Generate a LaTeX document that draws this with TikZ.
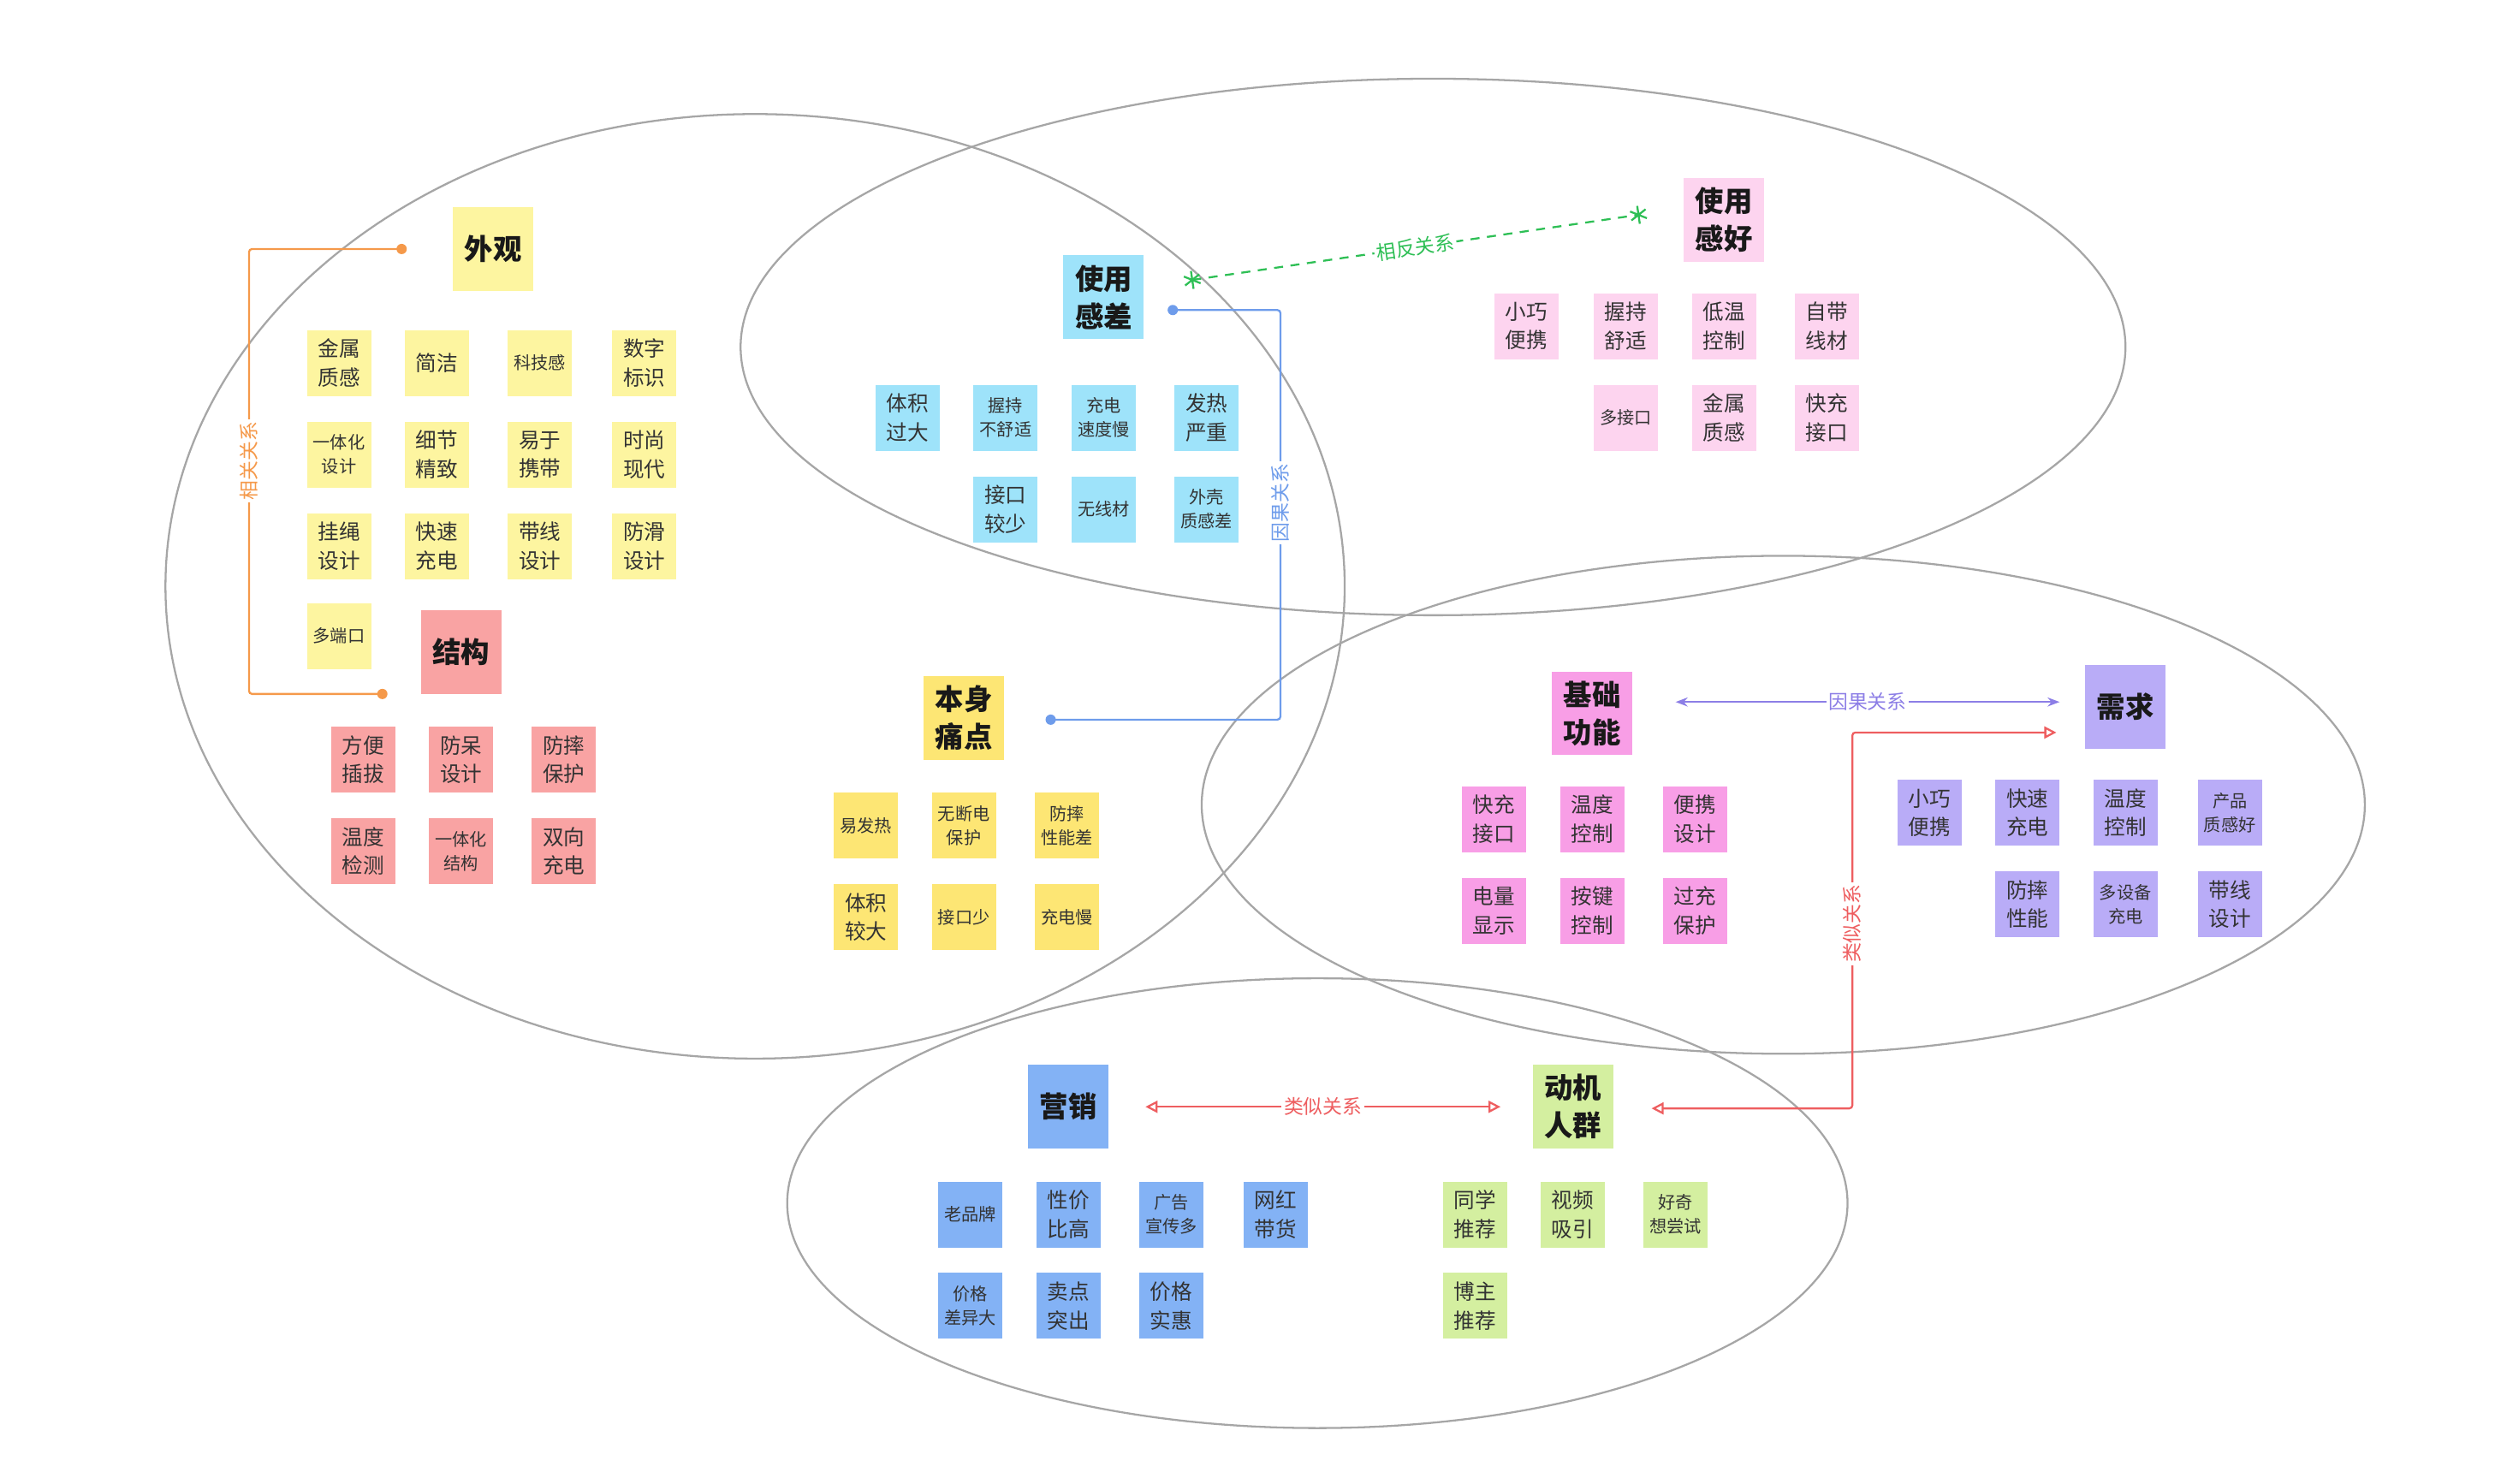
\documentclass[tikz,border=0pt]{standalone}
\usepackage{fontspec}
\setmainfont{Noto Sans CJK SC}
\usetikzlibrary{arrows.meta}
\definecolor{cY}{HTML}{FDF5A0}
\definecolor{cR}{HTML}{F9A3A3}
\definecolor{cC}{HTML}{9EE3FA}
\definecolor{cP}{HTML}{FDD4EF}
\definecolor{cM}{HTML}{F89EE6}
\definecolor{cL}{HTML}{B9ACF7}
\definecolor{cB}{HTML}{83B2F5}
\definecolor{cG}{HTML}{D4EFA0}
\definecolor{cD}{HTML}{FDE674}
\definecolor{lO}{HTML}{F5994A}
\definecolor{lB}{HTML}{6E9CEB}
\definecolor{lG}{HTML}{2EBF55}
\definecolor{lV}{HTML}{8C7EE6}
\definecolor{lR}{HTML}{EE5E60}
\tikzset{
 note/.style={minimum width=1.5cm,minimum height=1.54cm,inner sep=1pt,align=center,font=\fontsize{14}{19}\selectfont,text=black!80},
 sm/.style={font=\fontsize{11.5}{16}\selectfont},
 head/.style={minimum width=1.88cm,minimum height=1.95cm,inner sep=1pt,align=center,font=\fontsize{19}{25}\selectfont\bfseries,text=black!90},
 ell/.style={draw=black!35,line width=1.3pt},
 lab/.style={fill=white,inner sep=1.5pt,font=\fontsize{13}{14}\selectfont},
}
\begin{document}
\begin{tikzpicture}[x=0.03754cm,y=-0.03754cm]
\useasboundingbox (0,0) rectangle (1560.5,923.3);
% ellipses
\draw[ell] (470,365) ellipse [x radius=367,y radius=294];
\draw[ell] (892,216) ellipse [x radius=431,y radius=167];
\draw[ell] (1110,501) ellipse [x radius=362,y radius=155];
\draw[ell] (820,749) ellipse [x radius=330,y radius=140];
% 外观
\node[head,fill=cY] (wg) at (307,155) {外观};
\foreach \t/\x/\y/\n in {金属\\质感/211/226/a1, 简洁/272/226/a2, 数字\\标识/401/226/a4,
  细节\\精致/272/283/a6, 易于\\携带/336/283/a7, 时尚\\现代/401/283/a8,
  挂绳\\设计/211/340/a9, 快速\\充电/272/340/a10, 带线\\设计/336/340/a11, 防滑\\设计/401/340/a12}
  \node[note,fill=cY] (\n) at (\x,\y) {\t};
\node[note,fill=cY,sm] (a3) at (336,226) {科技感};
\node[note,fill=cY,sm] (a5) at (211,283) {一体化\\设计};
\node[note,fill=cY,sm] (a13) at (211,396) {多端口};
% 结构
\node[head,fill=cR] (jg) at (287,406) {结构};
\foreach \t/\x/\y/\n in {方便\\插拔/226/473/b1, 防呆\\设计/287/473/b2, 防摔\\保护/351/473/b3,
  温度\\检测/226/530/b4, 双向\\充电/351/530/b6}
  \node[note,fill=cR] (\n) at (\x,\y) {\t};
\node[note,fill=cR,sm] (b5) at (287,530) {一体化\\结构};
% 使用感差
\node[head,fill=cC] (sc) at (687,185) {使用\\感差};
\node[note,fill=cC] (c1) at (565,260) {体积\\过大};
\node[note,fill=cC,sm] (c2) at (626,260) {握持\\不舒适};
\node[note,fill=cC,sm] (c3) at (687,260) {充电\\速度慢};
\node[note,fill=cC] (c4) at (751,260) {发热\\严重};
\node[note,fill=cC] (c5) at (626,317) {接口\\较少};
\node[note,fill=cC,sm] (c6) at (687,317) {无线材};
\node[note,fill=cC,sm] (c7) at (751,317) {外壳\\质感差};
% 本身痛点
\node[head,fill=cD] (bs) at (600,447) {本身\\痛点};
\node[note,fill=cD,sm] (d1) at (539,514) {易发热};
\node[note,fill=cD,sm] (d2) at (600,514) {无断电\\保护};
\node[note,fill=cD,sm] (d3) at (664,514) {防摔\\性能差};
\node[note,fill=cD] (d4) at (539,571) {体积\\较大};
\node[note,fill=cD,sm] (d5) at (600,571) {接口少};
\node[note,fill=cD,sm] (d6) at (664,571) {充电慢};
% 使用感好
\node[head,fill=cP] (sh) at (1073,137) {使用\\感好};
\foreach \t/\x/\y/\n in {小巧\\便携/950/203/e1, 握持\\舒适/1012/203/e2, 低温\\控制/1073/203/e3, 自带\\线材/1137/203/e4,
  金属\\质感/1073/260/e6, 快充\\接口/1137/260/e7}
  \node[note,fill=cP] (\n) at (\x,\y) {\t};
\node[note,fill=cP,sm] (e5) at (1012,260) {多接口};
% 基础功能
\node[head,fill=cM] (jc) at (991,444) {基础\\功能};
\foreach \t/\x/\y/\n in {快充\\接口/930/510/f1, 温度\\控制/991/510/f2, 便携\\设计/1055/510/f3,
  电量\\显示/930/567/f4, 按键\\控制/991/567/f5, 过充\\保护/1055/567/f6}
  \node[note,fill=cM] (\n) at (\x,\y) {\t};
% 需求
\node[head,fill=cL] (xq) at (1323,440) {需求};
\foreach \t/\x/\y/\n in {小巧\\便携/1201/506/g1, 快速\\充电/1262/506/g2, 温度\\控制/1323/506/g3,
  防摔\\性能/1262/563/g5, 带线\\设计/1388/563/g7}
  \node[note,fill=cL] (\n) at (\x,\y) {\t};
\node[note,fill=cL,sm] (g4) at (1388,506) {产品\\质感好};
\node[note,fill=cL,sm] (g6) at (1323,563) {多设备\\充电};
% 营销
\node[head,fill=cB] (yx) at (665,689) {营销};
\foreach \t/\x/\y/\n in {性价\\比高/665/756/h2, 网红\\带货/794/756/h4,
  卖点\\突出/665/813/h6, 价格\\实惠/729/813/h7}
  \node[note,fill=cB] (\n) at (\x,\y) {\t};
\node[note,fill=cB,sm] (h1) at (604,756) {老品牌};
\node[note,fill=cB,sm] (h3) at (729,756) {广告\\宣传多};
\node[note,fill=cB,sm] (h5) at (604,813) {价格\\差异大};
% 动机人群
\node[head,fill=cG] (dj) at (979,689) {动机\\人群};
\foreach \t/\x/\y/\n in {同学\\推荐/918/756/i1, 视频\\吸引/979/756/i2, 博主\\推荐/918/813/i4}
  \node[note,fill=cG] (\n) at (\x,\y) {\t};
\node[note,fill=cG,sm] (i3) at (1043,756) {好奇\\想尝试};
% connectors
\coordinate (o1) at (250,155); \coordinate (o2) at (238,432);
\draw[lO,line width=1.3pt,rounded corners=2pt] (o1) -- (155,155) -- (155,432) -- (o2);
\fill[lO] (o1) circle (3.2) (o2) circle (3.2);
\node[lab,text=lO,rotate=90] (l1) at (155,287) {相关关系};
\coordinate (u1) at (730,193); \coordinate (u2) at (654,448);
\draw[lB,line width=1.3pt,rounded corners=2pt] (u1) -- (797,193) -- (797,448) -- (u2);
\fill[lB] (u1) circle (3.2) (u2) circle (3.2);
\node[lab,text=lB,rotate=90] (l2) at (797,313) {因果关系};
\coordinate (s1) at (737,175); \coordinate (s2) at (1025,133);
\draw[lG,line width=1.3pt,dash pattern=on 6pt off 5pt,{Rays[n=6,length=12pt,line width=1.3pt]}-{Rays[n=6,length=12pt,line width=1.3pt]}] (s1) -- (s2)
  node[pos=0.5,sloped,lab,text=lG] (l3) {相反关系};
\coordinate (p1) at (1043,437); \coordinate (p2) at (1282,437);
\draw[lV,line width=1.3pt,{Stealth[length=8pt]}-{Stealth[length=8pt]}] (p1) -- (p2)
  node[midway,lab,text=lV] (l4) {因果关系};
\coordinate (r1) at (1280,456); \coordinate (r2) at (1028,690);
\draw[lR,line width=1.3pt,rounded corners=2pt,{Triangle[open,length=8pt,width=8pt]}-{Triangle[open,length=8pt,width=8pt]}] (r1) -- (1153,456) -- (1153,690) -- (r2);
\node[lab,text=lR,rotate=90] (l5) at (1153,575) {类似关系};
\coordinate (q1) at (713,689); \coordinate (q2) at (934,689);
\draw[lR,line width=1.3pt,{Triangle[open,length=8pt,width=8pt]}-{Triangle[open,length=8pt,width=8pt]}] (q1) -- (q2)
  node[midway,lab,text=lR] (l6) {类似关系};
\end{tikzpicture}
\end{document}
